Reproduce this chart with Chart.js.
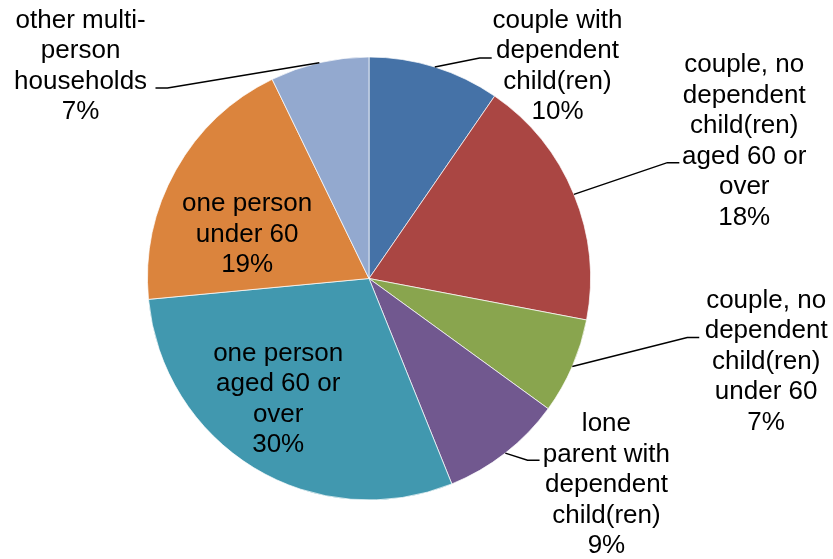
<!DOCTYPE html>
<html lang="en">
<head>
    <meta charset="UTF-8">
    <title>Household types</title>
    <script src="https://cdn.jsdelivr.net/npm/chart.js"></script>
    <style>
        body { margin: 0; padding: 0; background: #ffffff; }
        #wrap { width: 833px; height: 559px; }
    </style>
</head>
<body>
    <div id="wrap"><canvas id="pieChart" width="833" height="559"></canvas></div>
    <script>
        const categories = [
            ['couple with', 'dependent', 'child(ren)'],
            ['couple, no', 'dependent', 'child(ren)', 'aged 60 or', 'over'],
            ['couple, no', 'dependent', 'child(ren)', 'under 60'],
            ['lone', 'parent with', 'dependent', 'child(ren)'],
            ['one person', 'aged 60 or', 'over'],
            ['one person', 'under 60'],
            ['other multi-', 'person', 'households']
        ];
        const shares = [9.6, 18.4, 7.0, 8.9, 29.6, 19.3, 7.2];
        const sliceColors = ['#4572A7', '#AA4643', '#89A54E', '#71588F', '#4198AF', '#DB843D', '#93A9CF'];

        // label placement in units of the pie radius, relative to the centre
        // end = where the leader line meets the label (null = label inside the slice)
        const placement = [
            { lx: 0.851, ly: -0.959, end: [0.554, -0.995] },
            { lx: 1.694, ly: -0.619, end: [1.401, -0.523] },
            { lx: 1.793, ly: 0.376, end: [1.491, 0.266] },
            { lx: 1.072, ly: 0.932, end: [0.770, 0.820] },
            { lx: -0.410, ly: 0.545, end: null },
            { lx: -0.550, ly: -0.198, end: null },
            { lx: -1.302, ly: -0.959, end: [-0.964, -0.860] }
        ];

        const sliceLabels = {
            id: 'sliceLabels',
            afterDatasetsDraw(chart) {
                const ctx = chart.ctx;
                const arcs = chart.getDatasetMeta(0).data;
                ctx.save();
                ctx.font = '26px "Liberation Sans", Arial, sans-serif';
                ctx.fillStyle = '#000';
                ctx.strokeStyle = '#000';
                ctx.lineWidth = 1.5;
                ctx.textAlign = 'center';
                ctx.textBaseline = 'middle';
                arcs.forEach((arc, i) => {
                    const { x, y, outerRadius: r, startAngle, endAngle } = arc.getProps(['x', 'y', 'outerRadius', 'startAngle', 'endAngle']);
                    const p = placement[i];
                    const mid = (startAngle + endAngle) / 2;
                    if (p.end) {
                        const ex = x + p.end[0] * r, ey = y + p.end[1] * r;
                        const bend = ex > x ? ex - 12 : ex + 12;
                        ctx.beginPath();
                        ctx.moveTo(x + Math.cos(mid) * r, y + Math.sin(mid) * r);
                        ctx.lineTo(bend, ey);
                        ctx.lineTo(ex, ey);
                        ctx.stroke();
                    }
                    const lines = categories[i].concat([Math.round(shares[i]) + '%']);
                    const lh = 30.5;
                    const cx = x + p.lx * r, cy = y + p.ly * r;
                    lines.forEach((t, k) => {
                        ctx.fillText(t, cx, cy + (k - (lines.length - 1) / 2) * lh);
                    });
                });
                ctx.restore();
            }
        };

        new Chart(document.getElementById('pieChart').getContext('2d'), {
            type: 'pie',
            data: {
                labels: categories.map(c => c.join(' ')),
                datasets: [{
                    data: shares,
                    backgroundColor: sliceColors,
                    borderColor: 'rgba(255,255,255,0.7)',
                    borderWidth: 1
                }]
            },
            options: {
                responsive: false,
                animation: false,
                layout: { padding: { left: 147, right: 242, top: 56, bottom: 58 } },
                plugins: { legend: { display: false }, tooltip: { enabled: false } }
            },
            plugins: [sliceLabels]
        });
    </script>
</body>
</html>
